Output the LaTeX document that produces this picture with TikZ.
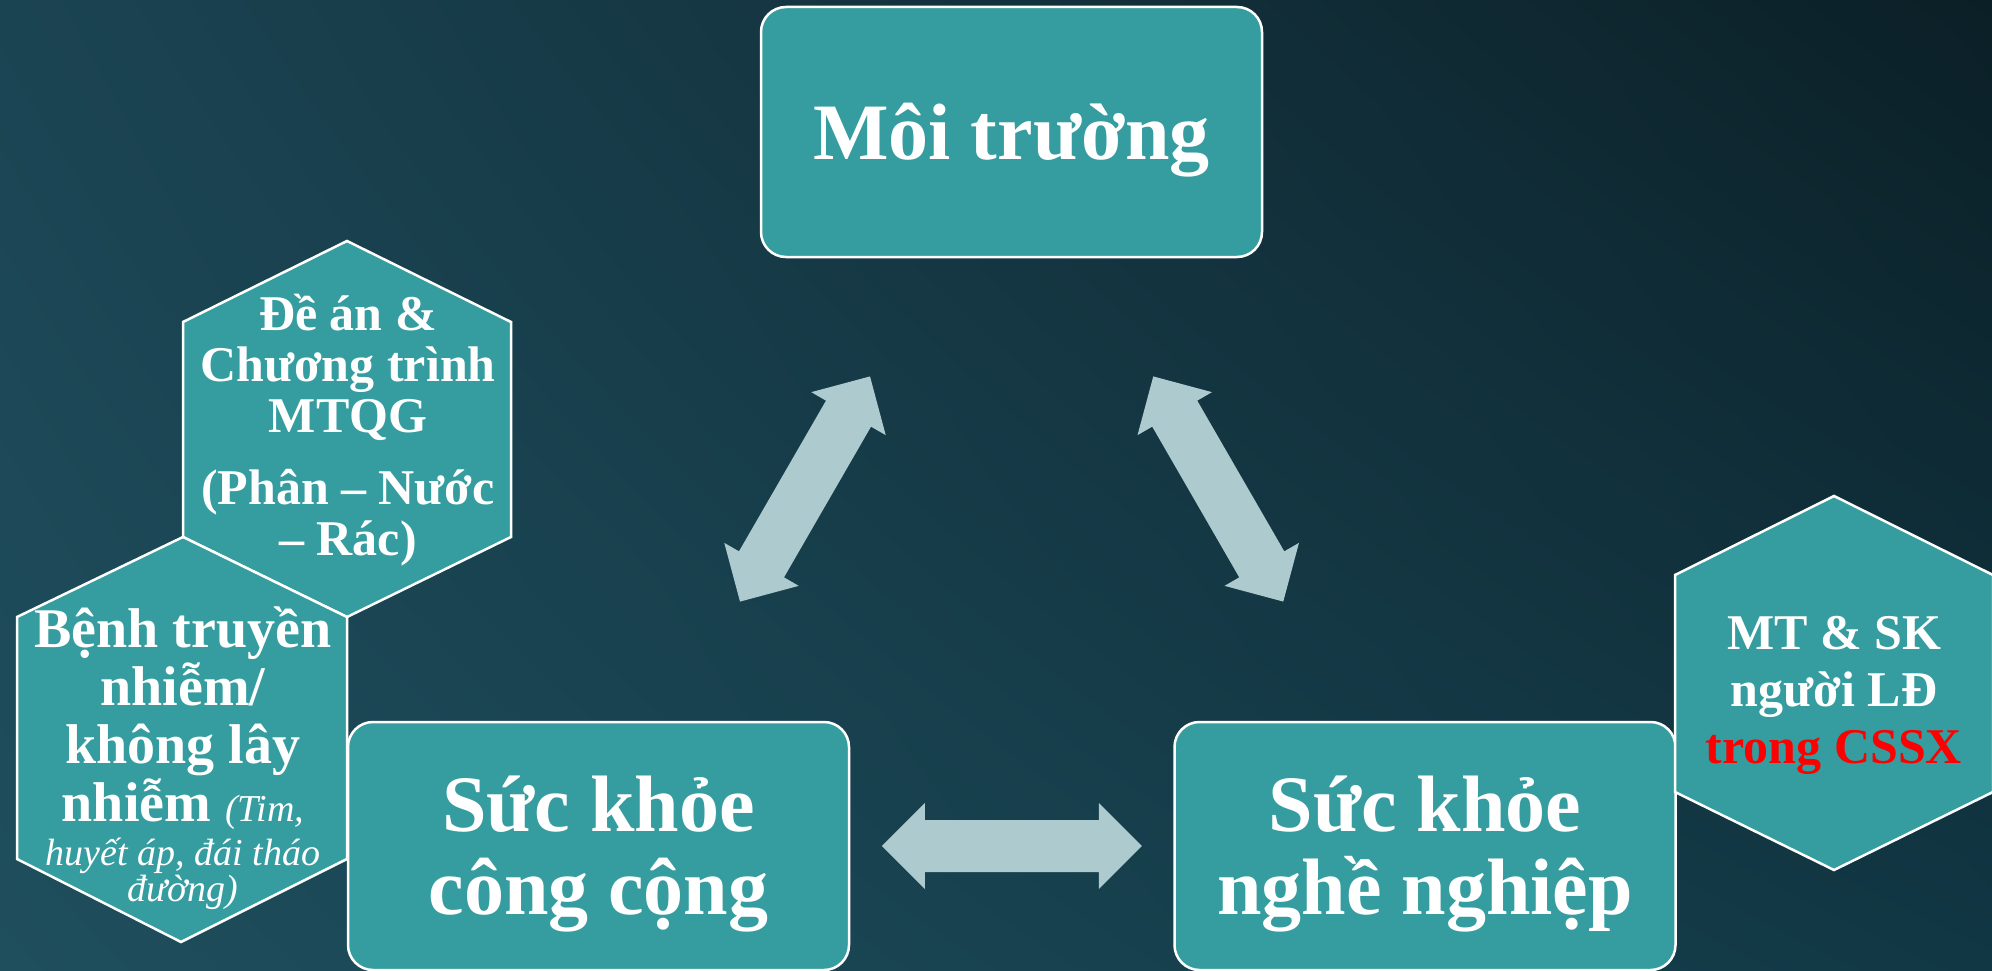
\documentclass[tikz,border=0pt]{standalone}
\usepackage{fontspec}
\setmainfont{Liberation Serif}
\usetikzlibrary{calc,shadings}

\definecolor{boxteal}{HTML}{359DA0}
\definecolor{arrowgray}{HTML}{ADCBCE}
\definecolor{bgTL}{HTML}{1B4453}
\definecolor{bgTR}{HTML}{0B1F26}
\definecolor{bgBL}{HTML}{1F4E5D}
\definecolor{bgBR}{HTML}{113744}
\definecolor{cssxred}{HTML}{FF0000}

\newcommand{\noteit}{\mdseries\itshape\fontsize{38}{40}\selectfont}
\newcommand{\boxstrut}{\rule{0pt}{72pt}}

\tikzset{
  mainbox/.style={draw=white, line width=2.5pt, fill=boxteal, rounded corners=25pt,
    minimum width=501pt, inner sep=0pt, text=white, align=center,
    font=\bfseries\fontsize{80}{83}\selectfont},
  hexcell/.style={draw=white, line width=2.5pt, fill=boxteal, line join=miter},
  hextext/.style={text=white, align=center, inner sep=0pt,
    font=\bfseries\fontsize{50}{51}\selectfont},
  linkarrow/.style={fill=arrowgray}
}

\begin{document}
\begin{tikzpicture}[x=1pt,y=-1pt]
\useasboundingbox (0,0) rectangle (1992,971);
\shade[upper left=bgTL, upper right=bgTR, lower left=bgBL, lower right=bgBR] (0,0) rectangle (1992,971);
%\draw[help lines,step=100] (0,0) grid (1992,971);

\node[mainbox, minimum height=250pt] (env) at (1011.5,132) {\boxstrut Môi trường};
\node[mainbox, minimum height=248pt] (pubhealth) at (598.5,846) {\boxstrut Sức khỏe\\công cộng};
\node[mainbox, minimum height=248pt] (occhealth) at (1425,846) {\boxstrut Sức khỏe\\nghề nghiệp};

% hexagons on the left
\draw[hexcell] (347,241) -- (511,322) -- (511,537) -- (347,617) -- (183,537) -- (183,322) -- cycle;
\node[hextext] (programme) at (348,430) {Đề án \&\\Chương trình\\MTQG\\[21pt](Phân – Nước\\– Rác)};

\draw[hexcell] (183,537) -- (347,617) -- (347,859) -- (181,942) -- (17,859) -- (17,617) -- cycle;
\node[hextext, font=\bfseries\fontsize{56}{58}\selectfont] (disease) at (183,758)
  {Bệnh truyền\\nhiễm/\\không lây\\nhiễm {\noteit(Tim,}\\[-14pt]{\noteit huyết áp, đái tháo}\\[-22pt]{\noteit đường)}};

% hexagon on the right
\draw[hexcell] (1834,496) -- (1993,575) -- (1993,792) -- (1834,870) -- (1675,792) -- (1675,575) -- cycle;
\node[hextext, font=\bfseries\fontsize{50}{57}\selectfont] (worker) at (1834,695)
  {MT \& SK\\người LĐ\\\textcolor{cssxred}{trong CSSX}};

% two-headed block arrows
\foreach \from/\to/\rot [count=\i] in {pubhealth/env/60, env/occhealth/-60, pubhealth/occhealth/0}{
  \coordinate (link\i) at ($(\from)!0.5!(\to)$);
  \fill[linkarrow, shift={(link\i)}, rotate=\rot] (-130,0) -- (-87,43) -- (-87,26) -- (87,26) -- (87,43)
    -- (130,0) -- (87,-43) -- (87,-26) -- (-87,-26) -- (-87,-43) -- cycle;
}

\end{tikzpicture}
\end{document}
